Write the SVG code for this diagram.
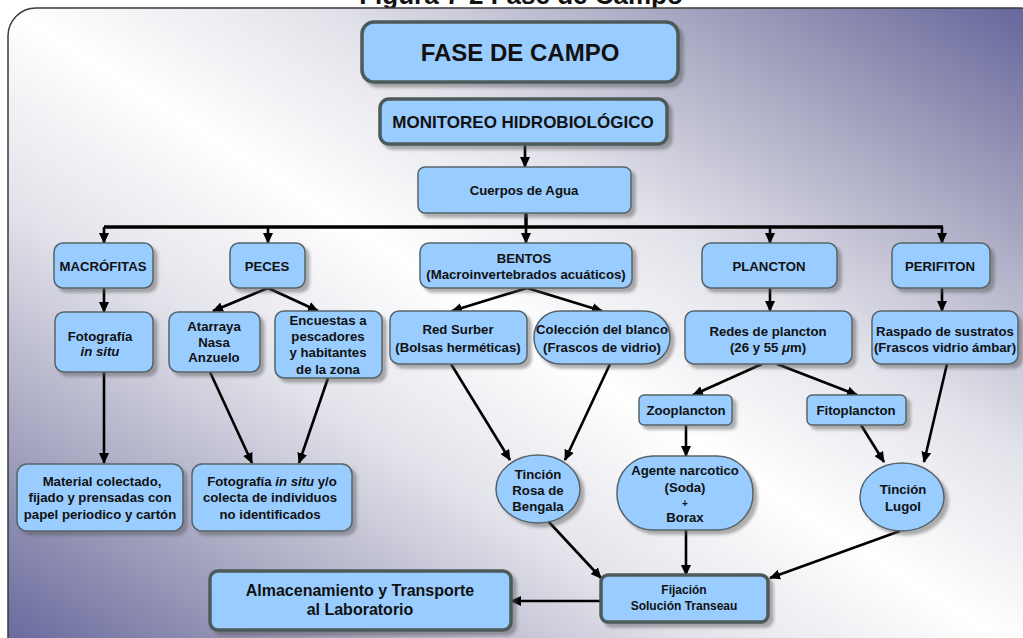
<svg xmlns="http://www.w3.org/2000/svg" width="1023" height="638" viewBox="0 0 1023 638">
<defs>
  <linearGradient id="bg" x1="1" y1="0" x2="0" y2="1">
    <stop offset="0" stop-color="#62629a"/>
    <stop offset="0.15" stop-color="#9a9ab9"/>
    <stop offset="0.35" stop-color="#e2e2ea"/>
    <stop offset="0.5" stop-color="#ffffff"/>
    <stop offset="0.65" stop-color="#e2e2ea"/>
    <stop offset="0.85" stop-color="#9a9ab9"/>
    <stop offset="1" stop-color="#62629a"/>
  </linearGradient>
  <filter id="sh" x="-10%" y="-10%" width="130%" height="140%">
    <feDropShadow dx="4" dy="4" stdDeviation="1.5" flood-color="#555" flood-opacity="0.45"/>
  </filter>
  <marker id="ah" markerUnits="userSpaceOnUse" markerWidth="11" markerHeight="10" refX="10" refY="5" orient="auto">
    <path d="M0,0 L11,5 L0,10 z" fill="#000"/>
  </marker>
  <style>
    .n { fill: #99ccff; stroke: #56646a; stroke-width: 1.5; filter: url(#sh); }
    .nb { fill: #99ccff; stroke: #4e5a5a; stroke-width: 3.5; filter: url(#sh); }
    text { font-family: "Liberation Sans", Arial, sans-serif; font-weight: bold; fill: #111; text-anchor: middle; }
    .s { font-size: 13.2px; }
    .c { stroke: #000; stroke-width: 2.6; fill: none; marker-end: url(#ah); }
    .cn { stroke: #000; stroke-width: 3.5; fill: none; }
    .i { font-style: italic; }
  </style>
</defs>
<rect x="0" y="0" width="1023" height="638" fill="#fff"/>
<text x="521" y="4" style="font-size:26px">Figura 7-2 Fase de Campo</text>
<rect x="8" y="8" width="1040" height="660" rx="28" fill="url(#bg)" stroke="#3a3a3a" stroke-width="1.5"/>

<g id="connectors">
  <path class="c" d="M525,144 L525,167"/>
  <path class="cn" d="M104,227 L943,227"/>
  <path class="cn" d="M526,213 L526,228"/>
  <path class="c" d="M104,227 L104,243"/>
  <path class="c" d="M268,227 L268,243"/>
  <path class="c" d="M526,227 L526,243"/>
  <path class="c" d="M770,227 L770,243"/>
  <path class="c" d="M942,227 L942,243"/>
  <path class="c" d="M104,288 L104,312"/>
  <path class="c" d="M268,288 L213,311"/>
  <path class="c" d="M268,288 L318,311"/>
  <path class="c" d="M527,288 L452,311"/>
  <path class="c" d="M527,288 L602,311"/>
  <path class="c" d="M770,288 L770,311"/>
  <path class="c" d="M942,288 L942,311"/>
  <path class="c" d="M104,372 L104,463"/>
  <path class="c" d="M210,372 L252,463"/>
  <path class="c" d="M328,378 L299,463"/>
  <path class="c" d="M451,364 L510,460"/>
  <path class="c" d="M610,364 L565,460"/>
  <path class="c" d="M762,364 L693,395"/>
  <path class="c" d="M777,364 L857,395"/>
  <path class="c" d="M686,425 L686,456"/>
  <path class="c" d="M861,425 L884,462"/>
  <path class="c" d="M947,364 L924,462"/>
  <path class="c" d="M548,521 L601,578"/>
  <path class="c" d="M686,530 L686,575"/>
  <path class="c" d="M900,531 L770,578"/>
  <path class="c" d="M601,601 L511,601"/>
</g>

<g id="fase">
  <rect class="nb" x="362" y="22" width="316" height="60" rx="12"/>
  <text x="520" y="61" style="font-size:24px">FASE DE CAMPO</text>
</g>
<g id="monitoreo">
  <rect class="nb" x="380" y="99" width="287" height="45" rx="9"/>
  <text x="523" y="128" style="font-size:17px">MONITOREO HIDROBIOLÓGICO</text>
</g>
<g id="cuerpos">
  <rect class="n" x="418" y="167" width="213" height="46" rx="7"/>
  <text class="s" x="524" y="195">Cuerpos de Agua</text>
</g>
<g id="macrofitas">
  <rect class="n" x="54" y="243" width="99" height="45" rx="9"/>
  <text class="s" x="103" y="271">MACRÓFITAS</text>
</g>
<g id="peces">
  <rect class="n" x="230" y="243" width="75" height="45" rx="9"/>
  <text class="s" x="267" y="271">PECES</text>
</g>
<g id="bentos">
  <rect class="n" x="420" y="243" width="212" height="45" rx="9"/>
  <text class="s" x="524" y="263">BENTOS</text>
  <text class="s" x="526" y="279">(Macroinvertebrados acuáticos)</text>
</g>
<g id="plancton">
  <rect class="n" x="702" y="243" width="135" height="45" rx="9"/>
  <text class="s" x="769" y="271">PLANCTON</text>
</g>
<g id="perifiton">
  <rect class="n" x="892" y="243" width="98" height="45" rx="9"/>
  <text class="s" x="940" y="271">PERIFITON</text>
</g>
<g id="fotografia">
  <rect class="n" x="55" y="312" width="98" height="60" rx="9"/>
  <text class="s" x="100" y="341">Fotografía</text>
  <text class="s i" x="100" y="356">in situ</text>
</g>
<g id="atarraya">
  <rect class="n" x="169" y="312" width="91" height="60" rx="9"/>
  <text class="s" x="214" y="331">Atarraya</text>
  <text class="s" x="214" y="347">Nasa</text>
  <text class="s" x="214" y="362">Anzuelo</text>
</g>
<g id="encuestas">
  <rect class="n" x="275" y="311" width="107" height="67" rx="9"/>
  <text class="s" x="328" y="325">Encuestas a</text>
  <text class="s" x="328" y="341">pescadores</text>
  <text class="s" x="328" y="357">y habitantes</text>
  <text class="s" x="328" y="374">de la zona</text>
</g>
<g id="redsurber">
  <rect class="n" x="390" y="311" width="137" height="53" rx="9"/>
  <text class="s" x="458" y="334">Red Surber</text>
  <text class="s" x="458" y="352">(Bolsas herméticas)</text>
</g>
<g id="coleccion">
  <rect class="n" x="534" y="311" width="136" height="53" rx="26"/>
  <text class="s" x="602" y="334">Colección del blanco</text>
  <text class="s" x="602" y="352">(Frascos de vidrio)</text>
</g>
<g id="redes">
  <rect class="n" x="685" y="311" width="167" height="53" rx="9"/>
  <text class="s" x="768" y="336">Redes de plancton</text>
  <text class="s" x="768" y="352">(26 y 55 <tspan class="i">μ</tspan>m)</text>
</g>
<g id="raspado">
  <rect class="n" x="872" y="311" width="146" height="53" rx="9"/>
  <text class="s" x="945" y="336">Raspado de sustratos</text>
  <text class="s" x="945" y="352">(Frascos vidrio ámbar)</text>
</g>
<g id="zooplancton">
  <rect class="n" x="639" y="395" width="93" height="30" rx="5"/>
  <text class="s" x="686" y="415">Zooplancton</text>
</g>
<g id="fitoplancton">
  <rect class="n" x="807" y="395" width="99" height="30" rx="5"/>
  <text class="s" x="856" y="415">Fitoplancton</text>
</g>
<g id="material">
  <rect class="n" x="17" y="464" width="166" height="67" rx="10"/>
  <text class="s" x="102" y="486">Material colectado,</text>
  <text class="s" x="100" y="502">fijado y prensadas con</text>
  <text class="s" x="100" y="519">papel periodico y cartón</text>
</g>
<g id="fotoyo">
  <rect class="n" x="192" y="464" width="160" height="67" rx="10"/>
  <text class="s" x="272" y="486">Fotografía <tspan class="i">in situ</tspan> y/o</text>
  <text class="s" x="270" y="502">colecta de individuos</text>
  <text class="s" x="270" y="519">no identificados</text>
</g>
<g id="rosa">
  <ellipse class="n" cx="538" cy="489" rx="42" ry="34"/>
  <text class="s" x="538" y="479">Tinción</text>
  <text class="s" x="538" y="495">Rosa de</text>
  <text class="s" x="538" y="511">Bengala</text>
</g>
<g id="agente">
  <rect class="n" x="617" y="456" width="136" height="74" rx="36"/>
  <text class="s" x="685" y="475">Agente narcotico</text>
  <text class="s" x="685" y="492">(Soda)</text>
  <text class="s" x="685" y="507" style="font-size:10px">+</text>
  <text class="s" x="685" y="522">Borax</text>
</g>
<g id="lugol">
  <ellipse class="n" cx="902" cy="497" rx="42" ry="34"/>
  <text class="s" x="903" y="494">Tinción</text>
  <text class="s" x="903" y="511">Lugol</text>
</g>
<g id="almacenamiento">
  <rect class="nb" x="210" y="571" width="301" height="59" rx="8"/>
  <text x="360" y="596" style="font-size:16px">Almacenamiento y Transporte</text>
  <text x="360" y="615" style="font-size:16px">al Laboratorio</text>
</g>
<g id="fijacion">
  <rect class="nb" x="601" y="575" width="167" height="47" rx="7"/>
  <text x="684" y="594" style="font-size:12px">Fijación</text>
  <text x="684" y="610" style="font-size:12px">Solución Transeau</text>
</g>
</svg>
